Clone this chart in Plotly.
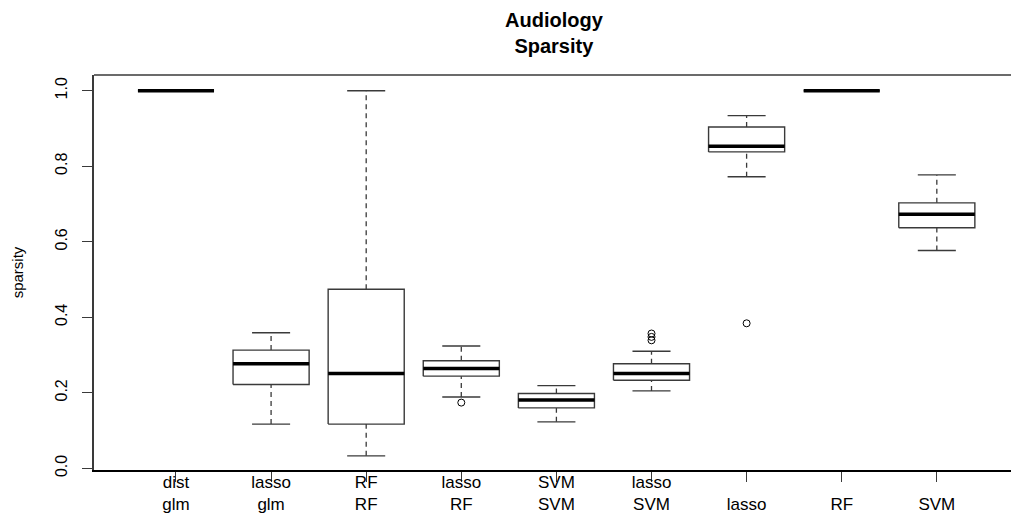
import plotly.graph_objects as go

# Sparsity summary per method (Audiology data set)
tick_labels = ["dist<br>glm", "lasso<br>glm", "RF<br>RF", "lasso<br>RF", "SVM<br>SVM",
               "lasso<br>SVM", " <br>lasso", " <br>RF", " <br>SVM"]
q1 = [1.0, 0.222, 0.117, 0.244, 0.160, 0.233, 0.838, 1.0, 0.637]
median = [1.0, 0.277, 0.251, 0.264, 0.181, 0.251, 0.853, 1.0, 0.673]
q3 = [1.0, 0.313, 0.474, 0.285, 0.198, 0.277, 0.904, 1.0, 0.703]
whisker_low = [1.0, 0.117, 0.033, 0.189, 0.123, 0.205, 0.772, 1.0, 0.577]
whisker_high = [1.0, 0.359, 1.0, 0.324, 0.219, 0.310, 0.934, 1.0, 0.777]
outliers = [[], [], [], [0.174], [], [0.339, 0.348, 0.357], [0.384], [], []]

positions = list(range(1, len(tick_labels) + 1))
box_half = 0.4
cap_half = 0.2
edge = "#3a3a3a"

fig = go.Figure()

for x, lo, a, m, b, hi, outs in zip(positions, whisker_low, q1, median, q3, whisker_high, outliers):
    # dashed whiskers
    for y0, y1 in ((lo, a), (b, hi)):
        fig.add_trace(go.Scatter(x=[x, x], y=[y0, y1], mode="lines",
                                 line=dict(color=edge, width=1.3, dash="5px,4px"),
                                 hoverinfo="skip", showlegend=False))
    # whisker caps
    for yv in (lo, hi):
        fig.add_trace(go.Scatter(x=[x - cap_half, x + cap_half], y=[yv, yv], mode="lines",
                                 line=dict(color=edge, width=1.4),
                                 hoverinfo="skip", showlegend=False))
    # box body
    fig.add_trace(go.Scatter(x=[x - box_half, x + box_half, x + box_half, x - box_half, x - box_half],
                             y=[a, a, b, b, a], mode="lines",
                             line=dict(color=edge, width=1.4),
                             hoverinfo="skip", showlegend=False))
    # median
    fig.add_trace(go.Scatter(x=[x - box_half, x + box_half], y=[m, m], mode="lines",
                             line=dict(color="black", width=3.5),
                             hoverinfo="skip", showlegend=False))
    # outliers
    if outs:
        fig.add_trace(go.Scatter(x=[x] * len(outs), y=outs, mode="markers",
                                 marker=dict(symbol="circle-open", size=7, color="black",
                                             line=dict(width=1)),
                                 hoverinfo="skip", showlegend=False))

# top border of the plot frame
fig.add_shape(type="line", xref="paper", yref="paper", x0=0, x1=1, y0=1, y1=1,
              line=dict(color=edge, width=1.5))

# two-line bold title
fig.add_annotation(text="<b>Audiology<br>Sparsity</b>", xref="paper", yref="paper",
                   x=0.5025, y=1.173, xanchor="center", yanchor="top", showarrow=False,
                   font=dict(size=20, color="black"))

fig.update_layout(
    width=1011, height=519,
    margin=dict(l=94, r=0, t=75, b=49),
    paper_bgcolor="white", plot_bgcolor="white",
    font=dict(family="Liberation Sans, Arial, sans-serif", color="black"),
    xaxis=dict(range=[0.138, 9.78], tickmode="array", tickvals=positions,
               ticktext=tick_labels, ticks="outside", ticklen=10, tickcolor=edge,
               tickwidth=1.3, showline=True, linecolor="black", linewidth=1.5,
               showgrid=False, zeroline=False, tickfont=dict(size=17),
               ticklabelstandoff=-14),
    yaxis=dict(range=[-0.0045, 1.0416], tickmode="array",
               tickvals=[0.0, 0.2, 0.4, 0.6, 0.8, 1.0],
               ticktext=["0.0", "0.2", "0.4", "0.6", "0.8", "1.0"],
               tickangle=-90, ticks="outside", ticklen=10, tickcolor=edge, tickwidth=1.3,
               showline=True, linecolor=edge, linewidth=1.5, showgrid=False, zeroline=False,
               tickfont=dict(size=16), ticklabelstandoff=9,
               title=dict(text="sparsity", font=dict(size=15), standoff=26)),
)

fig.write_html("out.html")
